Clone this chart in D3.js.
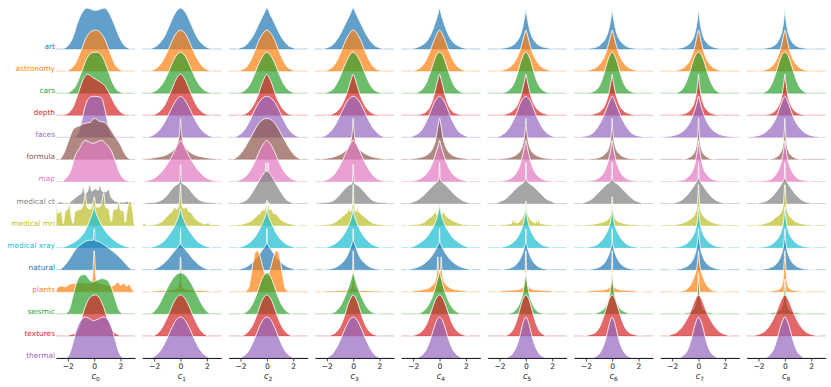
<!DOCTYPE html>
<html>
<head>
<meta charset="utf-8">
<script src="https://cdn.jsdelivr.net/npm/d3@7/dist/d3.min.js"></script>
<style>
  body { margin: 0; background: #fff; }
  text { font-family: "DejaVu Sans", sans-serif; }
</style>
</head>
<body>
<script>
// rows of the ridgeline, top to bottom
var categories = ["art", "astronomy", "cars", "depth", "faces", "formula", "map", "medical ct",
  "medical mri", "medical xray", "natural", "plants", "seismic", "textures", "thermal"];
var rowColors = ["#1f77b4", "#ff7f0e", "#2ca02c", "#d62728", "#9467bd", "#8c564b", "#e377c2", "#7f7f7f",
  "#bcbd22", "#17becf", "#1f77b4", "#ff7f0e", "#2ca02c", "#d62728", "#9467bd"];
var components = ["0", "1", "2", "3", "4", "5", "6", "7", "8"];
var xTicks = [-2, 0, 2];

// density profiles: [x, height] with height 0..100 (100 = tallest ridge)
// a profile that starts at x = 0 is symmetric and only its right half is listed
var c0 = [
  [[-2.45,0],[-2.0,8],[-1.6,30],[-1.25,65],[-0.95,87],[-0.55,100],[0.1,94],[0.8,100],[1.15,87],[1.5,62],[1.9,30],[2.35,7],[2.85,0]],
  [[-2.2,0],[-1.8,5],[-1.4,20],[-1.0,50],[-0.6,82],[-0.2,97],[0.1,100],[0.4,96],[0.8,78],[1.2,45],[1.6,15],[2.0,3],[2.3,0]],
  [[-2.2,0],[-1.8,4],[-1.4,18],[-1.0,48],[-0.6,82],[-0.2,98],[0.2,100],[0.6,90],[1.0,60],[1.4,25],[1.8,6],[2.3,0]],
  [[-2.5,0],[-2.0,5],[-1.6,20],[-1.2,55],[-0.8,90],[-0.5,100],[-0.1,92],[0.4,82],[0.8,72],[1.2,50],[1.6,25],[2.0,8],[2.5,1],[2.9,0]],
  [[-1.6,0],[-1.25,8],[-0.95,40],[-0.65,80],[-0.35,97],[-0.1,100],[0.3,99],[0.55,96],[0.8,70],[1.1,25],[1.35,5],[1.6,0]],
  [[-2.6,0],[-2.3,15],[-1.95,45],[-1.55,75],[-1.1,82],[-0.7,88],[-0.3,90],[0.0,100],[0.4,93],[0.8,90],[1.2,75],[1.6,55],[2.0,35],[2.3,15],[2.6,3],[2.9,0]],
  [[-2.4,0],[-2.1,10],[-1.8,25],[-1.45,62],[-1.1,82],[-0.7,100],[-0.1,93],[0.55,100],[0.95,90],[1.3,75],[1.6,50],[1.95,20],[2.3,5],[2.8,0]],
  [[-2.9,0],[-2.5,4],[-2.3,1],[-1.9,3],[-1.6,10],[-1.2,20],[-0.95,26],[-0.83,42],[-0.7,24],[-0.5,30],[-0.32,47],[-0.2,30],[0.1,36],[0.3,32],[0.44,46],[0.6,30],[0.9,28],[1.1,35],[1.25,18],[1.5,8],[1.8,4],[2.2,3],[2.5,5],[2.8,2],[3.05,0]],
  [[-2.9,0],[-2.85,55],[-2.75,30],[-2.5,35],[-2.35,5],[-2.2,35],[-2.0,40],[-1.9,60],[-1.8,35],[-1.6,5],[-1.45,35],[-1.2,38],[-1.0,40],[-0.8,55],[-0.67,78],[-0.55,45],[-0.3,40],[-0.1,55],[0.0,70],[0.15,45],[0.4,45],[0.6,60],[0.72,80],[0.85,45],[1.1,40],[1.3,10],[1.45,40],[1.7,40],[1.86,60],[2.0,38],[2.25,35],[2.36,8],[2.5,38],[2.74,60],[2.9,40],[3.05,0]],
  [[-2.5,0],[-2.1,4],[-1.7,10],[-1.3,18],[-1.0,27],[-0.7,40],[-0.45,58],[-0.25,75],[-0.1,88],[0,100],[0.1,88],[0.3,72],[0.55,55],[0.85,40],[1.2,27],[1.6,16],[2.0,8],[2.4,3],[2.9,0]],
  [[-2.6,0],[-2.2,12],[-1.8,30],[-1.4,50],[-1.0,62],[-0.6,70],[-0.3,72],[-0.06,72],[-0.02,100],[0.02,100],[0.06,72],[0.4,68],[0.8,60],[1.2,50],[1.6,40],[2.0,28],[2.4,14],[2.7,4],[2.9,0]],
  [[-2.9,0],[-2.8,10],[-2.5,14],[-2.2,12],[-1.9,18],[-1.6,20],[-1.2,22],[-0.8,22],[-0.4,20],[-0.2,25],[-0.1,45],[-0.04,85],[0,100],[0.04,85],[0.1,45],[0.2,25],[0.5,20],[0.9,18],[1.3,14],[1.6,18],[1.8,24],[2.0,16],[2.25,21],[2.45,14],[2.65,18],[2.85,8],[3.0,0]],
  [[-2.2,0],[-1.9,10],[-1.6,45],[-1.3,80],[-1.0,94],[-0.7,96],[-0.4,85],[-0.15,78],[0.2,82],[0.6,86],[1.0,82],[1.3,65],[1.6,35],[1.9,8],[2.2,0]],
  [[-2.2,0],[-1.8,3],[-1.4,8],[-1.1,25],[-0.8,60],[-0.5,85],[-0.2,97],[0.1,100],[0.4,92],[0.7,72],[1.0,42],[1.3,18],[1.7,5],[2.1,0]],
  [[-2.1,0],[-1.9,8],[-1.6,38],[-1.3,74],[-1.0,92],[-0.7,100],[-0.4,97],[-0.05,91],[0.3,95],[0.7,100],[1.0,95],[1.3,78],[1.6,44],[1.9,12],[2.2,0]]
];
var c1 = [
  [[0,100],[0.4,88],[0.8,61],[1.2,32],[1.6,14],[2.0,4],[2.5,0]],
  [[0,100],[0.4,89],[0.8,62],[1.2,34],[1.6,14],[2.0,4],[2.5,0]],
  [[0,100],[0.4,88],[0.8,60],[1.2,32],[1.6,13],[2.0,4],[2.5,0]],
  [[0,100],[0.3,90],[0.6,68],[0.9,45],[1.2,25],[1.6,9],[2.0,2],[2.4,0]],
  [[0,100],[0.3,92],[0.6,76],[0.9,56],[1.2,37],[1.6,18],[2.0,7],[2.6,0]],
  [[0,100],[0.05,75],[0.1,58],[0.2,42],[0.4,28],[0.7,18],[1.0,12],[1.5,7],[2.0,4],[2.5,2],[2.9,0]],
  [[0,100],[0.3,85],[0.6,65],[0.9,48],[1.2,33],[1.6,18],[2.0,8],[2.5,2],[2.9,0]],
  [[0,95],[0.04,70],[0.1,50],[0.3,46],[0.6,38],[0.9,25],[1.2,14],[1.6,6],[2.0,3],[2.5,2],[2.9,0]],
  [[-2.9,0],[-2.75,6],[-2.6,0],[-2.2,2],[-1.8,4],[-1.4,10],[-1.1,20],[-0.8,30],[-0.6,36],[-0.45,45],[-0.3,40],[-0.15,48],[-0.05,70],[0,100],[0.05,70],[0.15,45],[0.3,42],[0.45,46],[0.6,35],[0.8,32],[1.0,22],[1.2,14],[1.5,8],[1.8,4],[2.1,6],[2.3,2],[2.7,3],[2.9,0]],
  [[0,95],[0.1,82],[0.3,64],[0.6,44],[0.9,30],[1.2,18],[1.6,8],[2.0,3],[2.4,0]],
  [[0,100],[0.03,62],[0.08,60],[0.3,52],[0.6,40],[1.0,24],[1.4,12],[1.8,4],[2.2,0]],
  [[0,85],[0.08,30],[0.2,10],[0.5,6],[1.0,4],[1.5,3],[2.0,2],[2.5,0]],
  [[0,100],[0.4,93],[0.8,75],[1.2,50],[1.6,24],[2.0,6],[2.3,0]],
  [[0,100],[0.3,93],[0.6,76],[0.9,53],[1.2,32],[1.5,15],[1.8,5],[2.1,0]],
  [[0,100],[0.3,94],[0.6,78],[0.9,57],[1.2,36],[1.5,19],[1.8,8],[2.1,2],[2.4,0]]
];
var c2 = [
  [[0,100],[0.2,88],[0.4,75],[0.7,55],[1.0,35],[1.3,20],[1.6,9],[2.0,3],[2.3,0]],
  [[0,100],[0.3,92],[0.6,75],[0.9,50],[1.2,28],[1.5,12],[1.9,3],[2.3,0]],
  [[0,100],[0.3,91],[0.6,73],[0.9,49],[1.2,27],[1.5,12],[1.9,3],[2.3,0]],
  [[0,100],[0.2,90],[0.4,75],[0.6,55],[0.9,32],[1.2,16],[1.5,6],[1.9,1],[2.2,0]],
  [[0,100],[0.3,96],[0.6,85],[0.9,68],[1.2,47],[1.5,28],[1.8,14],[2.2,4],[2.6,0]],
  [[0,100],[0.3,97],[0.6,88],[0.9,73],[1.2,55],[1.5,38],[1.8,22],[2.1,10],[2.4,3],[2.7,0]],
  [[0,100],[0.25,92],[0.5,78],[0.8,56],[1.1,36],[1.4,20],[1.8,8],[2.2,2],[2.5,0]],
  [[-2.3,0],[-1.9,3],[-1.5,10],[-1.2,22],[-0.9,38],[-0.6,55],[-0.35,68],[-0.2,75],[-0.12,80],[-0.08,100],[-0.04,78],[0,80],[0.06,78],[0.1,100],[0.14,78],[0.3,70],[0.5,60],[0.8,42],[1.1,26],[1.4,12],[1.8,3],[2.2,0]],
  [[-2.5,0],[-2.2,2],[-1.8,4],[-1.4,8],[-1.0,16],[-0.7,26],[-0.5,30],[-0.35,40],[-0.2,36],[-0.1,55],[-0.05,40],[0,62],[0.05,40],[0.12,58],[0.2,38],[0.35,40],[0.5,30],[0.7,28],[1.0,16],[1.4,8],[1.8,4],[2.2,1],[2.5,0]],
  [[0,100],[0.03,90],[0.1,80],[0.25,66],[0.45,52],[0.7,36],[1.0,22],[1.4,10],[1.8,4],[2.2,0]],
  [[0,100],[0.03,64],[0.1,60],[0.3,50],[0.6,36],[0.9,24],[1.3,12],[1.8,4],[2.3,0]],
  [[0,40],[0.1,42],[0.3,60],[0.5,85],[0.7,100],[0.85,98],[1.0,80],[1.2,40],[1.4,8],[1.7,0]],
  [[0,100],[0.2,95],[0.4,83],[0.6,64],[0.8,46],[1.0,30],[1.3,13],[1.6,4],[2.0,0]],
  [[0,100],[0.2,95],[0.4,84],[0.6,66],[0.8,48],[1.0,32],[1.3,15],[1.6,5],[2.0,0]],
  [[0,100],[0.3,93],[0.6,74],[0.9,50],[1.2,28],[1.5,12],[1.8,4],[2.1,0]]
];
var c3 = [
  [[0,100],[0.2,87],[0.4,74],[0.7,54],[1.0,35],[1.3,20],[1.6,9],[2.0,3],[2.4,0]],
  [[0,100],[0.3,91],[0.6,73],[0.9,49],[1.2,27],[1.5,12],[1.9,3],[2.3,0]],
  [[0,100],[0.3,91],[0.6,72],[0.9,48],[1.2,26],[1.5,11],[1.9,3],[2.3,0]],
  [[0,100],[0.15,88],[0.3,72],[0.5,52],[0.75,32],[1.0,18],[1.4,6],[1.8,1],[2.2,0]],
  [[0,100],[0.3,94],[0.6,80],[0.9,60],[1.2,40],[1.5,23],[1.9,9],[2.5,0]],
  [[0,100],[0.05,75],[0.1,58],[0.2,42],[0.4,28],[0.7,18],[1.0,12],[1.5,6],[2.0,3],[2.5,0]],
  [[0,100],[0.25,90],[0.5,74],[0.8,52],[1.1,34],[1.4,19],[1.8,7],[2.2,2],[2.5,0]],
  [[0,95],[0.04,68],[0.1,48],[0.3,45],[0.6,37],[0.9,26],[1.2,15],[1.5,7],[2.0,3],[2.5,2],[2.8,0]],
  [[0,100],[0.05,55],[0.12,40],[0.22,34],[0.3,46],[0.4,35],[0.6,28],[0.9,20],[1.2,12],[1.5,6],[1.9,3],[2.3,2],[2.6,0]],
  [[0,95],[0.05,85],[0.15,72],[0.3,58],[0.5,44],[0.75,30],[1.0,20],[1.4,9],[1.8,3],[2.2,0]],
  [[0,100],[0.03,70],[0.08,66],[0.2,55],[0.4,38],[0.6,26],[0.9,15],[1.2,8],[1.6,3],[2.0,1],[2.4,0]],
  [[0,100],[0.04,55],[0.08,25],[0.15,10],[0.3,5],[0.6,3],[1.0,3],[1.5,2],[2.0,2],[2.5,0]],
  [[0,100],[0.15,85],[0.3,70],[0.5,52],[0.75,33],[1.0,18],[1.3,7],[1.6,2],[2.0,0]],
  [[0,100],[0.2,92],[0.4,76],[0.6,55],[0.8,36],[1.0,22],[1.3,9],[1.7,2],[2.0,0]],
  [[0,100],[0.3,92],[0.6,73],[0.9,50],[1.2,29],[1.5,13],[1.8,4],[2.1,0]]
];
var c4 = [
  [[0,100],[0.1,88],[0.2,77],[0.35,62],[0.5,48],[0.75,30],[1.0,18],[1.4,8],[1.8,3],[2.3,0]],
  [[0,100],[0.15,94],[0.3,84],[0.5,68],[0.75,46],[1.0,28],[1.3,13],[1.7,4],[2.2,0]],
  [[0,100],[0.25,92],[0.5,70],[0.75,46],[1.0,25],[1.3,10],[1.6,3],[2.0,0]],
  [[0,100],[0.1,90],[0.2,78],[0.35,58],[0.5,40],[0.75,20],[1.0,9],[1.4,3],[1.8,0]],
  [[0,100],[0.2,95],[0.4,85],[0.6,70],[0.8,53],[1.1,32],[1.4,16],[1.8,6],[2.3,0]],
  [[0,100],[0.08,88],[0.15,75],[0.25,55],[0.4,36],[0.6,22],[0.9,12],[1.3,6],[1.8,3],[2.4,0]],
  [[0,100],[0.1,88],[0.2,77],[0.35,62],[0.5,48],[0.75,30],[1.0,18],[1.4,8],[1.8,3],[2.3,0]],
  [[0,100],[0.05,60],[0.15,54],[0.35,48],[0.6,40],[0.9,30],[1.2,20],[1.6,10],[2.0,4],[2.5,0]],
  [[-2.5,0],[-2.1,2],[-1.7,3],[-1.3,6],[-1.0,12],[-0.8,18],[-0.6,22],[-0.45,28],[-0.3,34],[-0.2,26],[-0.1,40],[0,52],[0.1,42],[0.2,28],[0.3,34],[0.45,26],[0.6,20],[0.8,16],[1.0,12],[1.3,8],[1.7,3],[2.1,2],[2.5,0]],
  [[0,100],[0.1,85],[0.25,68],[0.45,52],[0.75,36],[1.0,25],[1.4,14],[1.8,6],[2.3,0]],
  [[0,100],[0.03,66],[0.08,63],[0.2,55],[0.4,43],[0.6,33],[0.9,22],[1.2,14],[1.6,7],[2.0,3],[2.5,0]],
  [[0,45],[0.09,60],[0.13,85],[0.17,60],[0.25,35],[0.4,22],[0.6,14],[0.9,8],[1.3,5],[1.8,3],[2.3,0]],
  [[0,100],[0.1,90],[0.25,72],[0.45,50],[0.7,30],[1.0,14],[1.3,5],[1.7,0]],
  [[0,100],[0.25,92],[0.5,72],[0.75,48],[1.0,28],[1.3,13],[1.7,4],[2.3,0]],
  [[0,100],[0.2,93],[0.4,76],[0.6,55],[0.8,36],[1.0,21],[1.3,8],[1.6,2],[1.9,0]]
];
var c5 = [
  [[0,100],[0.05,88],[0.1,78],[0.2,60],[0.3,46],[0.5,28],[0.75,16],[1.0,9],[1.4,4],[2.0,1],[2.3,0]],
  [[0,100],[0.1,90],[0.2,78],[0.35,60],[0.5,45],[0.75,28],[1.0,16],[1.4,6],[1.8,2],[2.3,0]],
  [[0,100],[0.2,92],[0.4,75],[0.6,52],[0.8,32],[1.0,18],[1.3,7],[1.6,2],[2.0,0]],
  [[0,100],[0.08,88],[0.16,76],[0.3,56],[0.45,40],[0.7,22],[1.0,11],[1.4,4],[1.9,0]],
  [[0,100],[0.2,95],[0.4,85],[0.6,68],[0.8,52],[1.1,32],[1.4,17],[1.8,6],[2.3,0]],
  [[0,100],[0.04,80],[0.08,64],[0.15,48],[0.25,34],[0.4,22],[0.6,14],[0.9,8],[1.3,4],[1.8,2],[2.2,0]],
  [[0,100],[0.08,88],[0.16,76],[0.3,56],[0.45,40],[0.7,22],[1.0,11],[1.4,4],[1.9,1],[2.3,0]],
  [[0,100],[0.04,58],[0.15,52],[0.4,46],[0.7,38],[1.0,28],[1.3,18],[1.6,10],[1.9,6],[2.3,0]],
  [[0,60],[0.1,35],[0.25,20],[0.5,10],[0.72,6],[0.8,18],[0.88,6],[0.95,18],[1.1,5],[1.3,4],[1.8,2],[2.3,0]],
  [[0,100],[0.05,85],[0.15,65],[0.3,48],[0.5,33],[0.75,20],[1.0,12],[1.3,6],[1.7,2],[2.0,0]],
  [[0,100],[0.03,66],[0.06,62],[0.1,56],[0.2,45],[0.35,32],[0.55,20],[0.8,11],[1.1,5],[1.5,2],[1.9,0]],
  [[0,100],[0.08,30],[0.2,12],[0.4,7],[0.7,5],[1.2,4],[1.7,3],[2.2,0]],
  [[0,100],[0.05,88],[0.1,76],[0.2,56],[0.3,42],[0.45,28],[0.65,15],[0.9,6],[1.2,2],[1.5,0]],
  [[0,100],[0.2,92],[0.4,72],[0.6,48],[0.8,28],[1.0,14],[1.3,4],[1.6,0]],
  [[0,100],[0.15,92],[0.3,75],[0.45,55],[0.6,38],[0.8,22],[1.0,11],[1.3,3],[1.6,0]]
];
var c6 = [
  [[0,100],[0.05,86],[0.1,75],[0.2,57],[0.3,43],[0.5,26],[0.75,15],[1.0,8],[1.4,3],[2.0,1],[2.4,0]],
  [[0,100],[0.1,89],[0.2,76],[0.35,58],[0.5,43],[0.75,26],[1.0,15],[1.4,6],[1.8,2],[2.3,0]],
  [[0,100],[0.2,91],[0.4,73],[0.6,50],[0.8,30],[1.0,16],[1.3,6],[1.6,2],[2.0,0]],
  [[0,100],[0.06,87],[0.13,74],[0.25,55],[0.4,38],[0.6,22],[0.9,10],[1.3,4],[1.8,0]],
  [[0,100],[0.15,92],[0.3,80],[0.5,64],[0.7,48],[1.0,30],[1.3,16],[1.7,6],[2.2,2],[2.6,0]],
  [[0,100],[0.03,80],[0.07,62],[0.13,46],[0.22,32],[0.35,21],[0.55,13],[0.8,7],[1.2,3],[1.7,1],[2.1,0]],
  [[0,100],[0.07,86],[0.15,72],[0.28,53],[0.42,38],[0.65,21],[0.95,10],[1.3,4],[1.8,1],[2.2,0]],
  [[0,100],[0.04,58],[0.15,53],[0.4,47],[0.7,38],[1.0,28],[1.3,18],[1.6,10],[2.0,4],[2.4,0]],
  [[-2.3,0],[-1.8,2],[-1.3,4],[-0.9,7],[-0.6,10],[-0.35,14],[-0.15,25],[-0.05,45],[0,70],[0.05,45],[0.15,25],[0.35,12],[0.6,8],[0.9,5],[1.3,3],[1.8,2],[2.3,0]],
  [[0,100],[0.05,83],[0.13,64],[0.28,47],[0.5,32],[0.75,19],[1.0,11],[1.3,5],[1.7,2],[2.1,0]],
  [[0,100],[0.03,66],[0.06,60],[0.1,53],[0.2,42],[0.35,30],[0.55,18],[0.8,10],[1.1,5],[1.5,2],[2.0,0]],
  [[0,100],[0.06,35],[0.15,14],[0.3,8],[0.6,5],[1.0,4],[1.5,3],[2.0,1],[2.4,0]],
  [[0,100],[0.04,85],[0.08,72],[0.15,54],[0.25,38],[0.4,24],[0.6,13],[0.9,6],[1.2,2],[1.6,0]],
  [[0,100],[0.2,92],[0.4,73],[0.6,52],[0.8,33],[1.0,19],[1.3,8],[1.7,3],[2.3,0]],
  [[0,100],[0.15,90],[0.3,72],[0.45,52],[0.6,35],[0.8,20],[1.0,10],[1.3,3],[1.6,0]]
];
var c7 = [
  [[0,100],[0.04,86],[0.08,75],[0.15,58],[0.25,42],[0.4,27],[0.6,16],[0.9,8],[1.3,3],[1.8,1],[2.4,0]],
  [[0,100],[0.08,90],[0.16,78],[0.3,58],[0.45,42],[0.65,27],[0.9,15],[1.2,7],[1.6,2],[2.1,0]],
  [[0,100],[0.2,94],[0.4,79],[0.6,58],[0.8,38],[1.0,22],[1.2,11],[1.5,3],[1.8,0]],
  [[0,100],[0.04,86],[0.08,74],[0.15,56],[0.25,40],[0.4,25],[0.6,14],[0.9,6],[1.3,2],[1.8,0]],
  [[0,100],[0.1,88],[0.25,70],[0.4,56],[0.6,40],[0.9,24],[1.3,12],[1.8,5],[2.4,2],[2.9,0]],
  [[0,100],[0.03,80],[0.06,62],[0.1,46],[0.18,30],[0.3,18],[0.5,9],[0.75,4],[1.0,1],[1.3,0]],
  [[0,100],[0.05,86],[0.1,74],[0.2,55],[0.3,40],[0.45,26],[0.7,14],[1.0,6],[1.4,2],[1.9,0]],
  [[0,100],[0.04,62],[0.1,56],[0.25,48],[0.45,38],[0.7,27],[1.0,16],[1.3,8],[1.7,3],[2.1,0]],
  [[0,100],[0.04,75],[0.12,45],[0.25,30],[0.4,22],[0.6,16],[0.9,10],[1.2,6],[1.6,3],[2.0,0]],
  [[0,100],[0.05,80],[0.12,60],[0.25,42],[0.45,27],[0.7,16],[1.0,8],[1.4,3],[1.9,1],[2.3,0]],
  [[0,100],[0.04,80],[0.1,62],[0.2,45],[0.35,30],[0.55,18],[0.8,10],[1.2,4],[1.7,1],[2.3,0]],
  [[0,100],[0.05,80],[0.1,65],[0.2,50],[0.35,35],[0.55,20],[0.8,9],[1.1,3],[1.5,1],[2.0,0]],
  [[0,100],[0.04,75],[0.08,55],[0.15,35],[0.25,20],[0.4,10],[0.7,4],[1.0,2],[1.4,0]],
  [[0,100],[0.15,95],[0.3,85],[0.5,68],[0.7,52],[0.9,40],[1.2,24],[1.6,10],[2.0,4],[2.4,0]],
  [[0,100],[0.15,92],[0.3,78],[0.5,52],[0.7,30],[0.9,15],[1.2,5],[1.5,0]]
];
var c8 = [
  [[0,100],[0.04,85],[0.08,73],[0.15,56],[0.25,40],[0.4,26],[0.6,15],[0.9,7],[1.3,3],[1.8,1],[2.4,0]],
  [[0,100],[0.08,90],[0.16,78],[0.3,58],[0.45,42],[0.65,27],[0.9,15],[1.2,7],[1.6,2],[2.1,0]],
  [[0,100],[0.2,94],[0.4,79],[0.6,58],[0.8,38],[1.0,22],[1.2,11],[1.5,3],[1.8,0]],
  [[0,100],[0.05,86],[0.1,74],[0.18,56],[0.28,40],[0.45,25],[0.65,14],[0.95,6],[1.3,2],[1.8,0]],
  [[0,100],[0.15,92],[0.3,80],[0.5,62],[0.7,45],[1.0,28],[1.4,14],[1.9,5],[2.4,2],[2.9,0]],
  [[0,100],[0.03,80],[0.06,62],[0.1,46],[0.18,30],[0.3,18],[0.5,9],[0.75,4],[1.0,1],[1.3,0]],
  [[0,100],[0.05,87],[0.1,76],[0.2,57],[0.32,42],[0.5,27],[0.75,14],[1.05,6],[1.5,2],[2.0,0]],
  [[0,100],[0.04,62],[0.1,56],[0.25,48],[0.45,38],[0.7,27],[1.0,16],[1.3,8],[1.7,3],[2.2,0]],
  [[-2.3,0],[-1.8,3],[-1.4,6],[-1.0,12],[-0.7,20],[-0.45,26],[-0.25,35],[-0.1,55],[0,100],[0.1,52],[0.25,30],[0.45,20],[0.7,12],[1.0,7],[1.4,4],[1.8,2],[2.3,0]],
  [[0,100],[0.05,80],[0.12,60],[0.25,42],[0.45,27],[0.7,16],[1.0,8],[1.4,3],[1.9,1],[2.3,0]],
  [[0,100],[0.04,78],[0.1,60],[0.2,44],[0.35,30],[0.55,18],[0.8,10],[1.2,4],[1.7,1],[2.4,0]],
  [[0,100],[0.04,80],[0.08,55],[0.15,25],[0.3,10],[0.5,5],[0.8,3],[1.2,1],[1.6,0]],
  [[0,85],[0.03,70],[0.06,55],[0.12,35],[0.2,20],[0.35,10],[0.6,5],[0.9,3],[1.3,1],[1.6,0]],
  [[0,100],[0.15,95],[0.3,86],[0.5,70],[0.75,50],[1.0,34],[1.3,19],[1.7,8],[2.1,3],[2.6,0]],
  [[0,100],[0.15,93],[0.3,80],[0.5,57],[0.7,35],[0.9,18],[1.2,6],[1.5,0]]
];
var profiles = [c0, c1, c2, c3, c4, c5, c6, c7, c8];

// symmetric profiles are listed from 0 upward, mirror them
function fullProfile(p) {
  if (p[0][0] !== 0) return p;
  var left = p.slice(1).map(function(d) { return [-d[0], d[1]]; }).reverse();
  return left.concat(p);
}

var W = 831, H = 387;
var svg = d3.select("body").append("svg")
  .attr("width", W)
  .attr("height", H);

// column placement and row baselines
var col = d3.scaleBand().domain(components).range([56, 825.7]).paddingInner(0.0846);
var yBase = d3.scalePoint().domain(categories).range([49, 358]);
var hScale = d3.scaleLinear().domain([0, 100]).range([0, 41]);
var xDomain = [-2.9, 3.1];

components.forEach(function(c, j) {
  var x = d3.scaleLinear().domain(xDomain).range([col(c), col(c) + col.bandwidth()]);
  var g = svg.append("g");

  categories.forEach(function(cat, i) {
    var base = yBase(cat);
    var pts = fullProfile(profiles[j][i]);
    var color = rowColors[i];

    // thin baseline over the whole column
    g.append("line")
      .attr("x1", x(xDomain[0])).attr("x2", x(xDomain[1]))
      .attr("y1", base).attr("y2", base)
      .attr("stroke", color)
      .attr("stroke-opacity", 0.35)
      .attr("stroke-width", 1);

    var area = d3.area()
      .x(function(d) { return x(d[0]); })
      .y0(base)
      .y1(function(d) { return base - hScale(d[1]); })
      .curve(d3.curveMonotoneX);

    var line = d3.line()
      .x(function(d) { return x(d[0]); })
      .y(function(d) { return base - hScale(d[1]); })
      .curve(d3.curveMonotoneX);

    g.append("path")
      .attr("d", area(pts))
      .attr("fill", color)
      .attr("fill-opacity", 0.7);

    g.append("path")
      .attr("d", line(pts))
      .attr("fill", "none")
      .attr("stroke", "#fff")
      .attr("stroke-width", 0.85)
      .attr("stroke-linejoin", "round");
  });

  // x axis under the last row
  var axis = d3.axisBottom(x)
    .tickValues(xTicks)
    .tickFormat(d3.format("d"))
    .tickSize(3.5)
    .tickSizeOuter(0)
    .tickPadding(2.5);
  var ag = svg.append("g")
    .attr("transform", "translate(0," + yBase("thermal") + ")")
    .call(axis);
  ag.select(".domain").attr("stroke", "#222").attr("stroke-width", 1);
  ag.selectAll(".tick line").attr("stroke", "#222").attr("stroke-width", 0.8);
  ag.selectAll(".tick text")
    .attr("font-family", "DejaVu Sans")
    .attr("font-size", "7.6px")
    .attr("fill", "#222");

  // axis title c_j
  var t = svg.append("text")
    .attr("x", col(c) + col.bandwidth() / 2)
    .attr("y", 379)
    .attr("text-anchor", "middle")
    .attr("font-size", "8.2px")
    .attr("fill", "#222");
  t.append("tspan").attr("font-style", "italic").text("c");
  t.append("tspan").attr("font-size", "5.8px").attr("dy", 1.8).text(c);
});

// row labels on the left
svg.append("g").selectAll("text")
  .data(categories)
  .enter().append("text")
  .attr("x", 55)
  .attr("y", function(d) { return yBase(d); })
  .attr("text-anchor", "end")
  .attr("font-size", "7.4px")
  .attr("fill", function(d, i) { return rowColors[i]; })
  .text(function(d) { return d; });
</script>
</body>
</html>
